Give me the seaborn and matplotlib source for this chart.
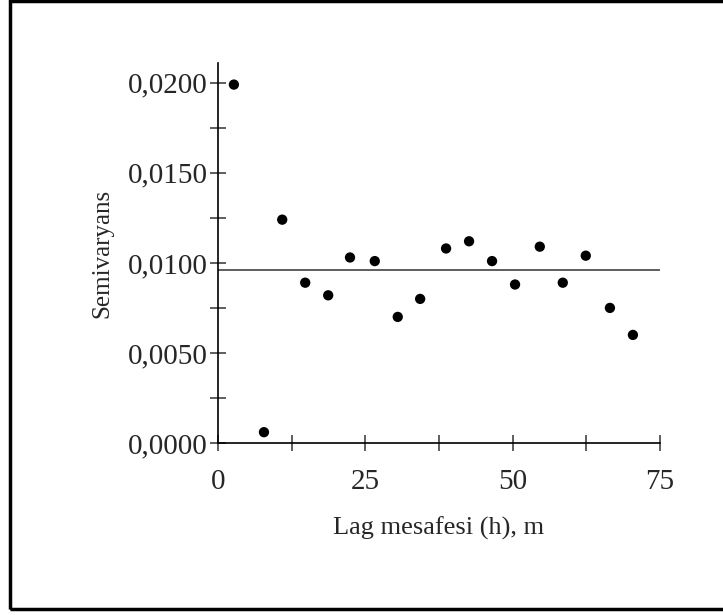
import numpy as np
import pandas as pd
import seaborn as sns
import matplotlib.pyplot as plt
from matplotlib.ticker import FuncFormatter, MultipleLocator
from matplotlib.patches import Rectangle

# Experimental semivariogram values
lag = [2.7, 7.8, 10.9, 14.8, 18.7, 22.4, 26.6, 30.5, 34.3, 38.7,
       42.6, 46.5, 50.4, 54.6, 58.5, 62.4, 66.5, 70.4]
semivar = [0.0199, 0.0006, 0.0124, 0.0089, 0.0082, 0.0103, 0.0101, 0.0070, 0.0080, 0.0108,
           0.0112, 0.0101, 0.0088, 0.0109, 0.0089, 0.0104, 0.0075, 0.0060]
sill = 0.0096

df = pd.DataFrame({"lag": lag, "semivar": semivar})

sns.set_style("ticks")
plt.rcParams["font.family"] = ["Liberation Serif", "DejaVu Serif"]

fig = plt.figure(figsize=(7.23, 6.15), dpi=100)
ax = fig.add_axes([0.3015, 0.2797, 0.6114, 0.6179])

sns.scatterplot(data=df, x="lag", y="semivar", ax=ax, color="black",
                s=55, edgecolor="none", zorder=3)
ax.plot([0, 75], [sill, sill], color="#333333", lw=1.1)

ax.set_xlim(0, 75)
ax.set_ylim(0, 0.0211)
ax.xaxis.set_major_locator(MultipleLocator(25))
ax.xaxis.set_minor_locator(MultipleLocator(12.5))
ax.yaxis.set_major_locator(MultipleLocator(0.005))
ax.yaxis.set_minor_locator(MultipleLocator(0.0025))
ax.yaxis.set_major_formatter(FuncFormatter(lambda v, p: f"{v:.4f}".replace(".", ",")))
ax.xaxis.set_major_formatter(FuncFormatter(lambda v, p: f"{v:.0f}"))

for s in ["top", "right"]:
    ax.spines[s].set_visible(False)
for s in ["left", "bottom"]:
    ax.spines[s].set_linewidth(1.2)
    ax.spines[s].set_color("black")

ax.tick_params(which="both", direction="inout", length=11, width=1.1, color="#333333")
ax.tick_params(axis="y", labelsize=21, pad=2)
ax.tick_params(axis="x", labelsize=21, pad=13)

ax.set_xlabel("Lag mesafesi (h), m", fontsize=19, labelpad=16)
ax.set_ylabel("Semivaryans", fontsize=18, labelpad=10)

# frame around the figure
fig.patches.append(Rectangle((10 / 723, 6 / 615), 1.2, 608 / 615, transform=fig.transFigure,
                             fill=False, edgecolor="black", lw=2.5))

fig.savefig("out.png", dpi=100)
